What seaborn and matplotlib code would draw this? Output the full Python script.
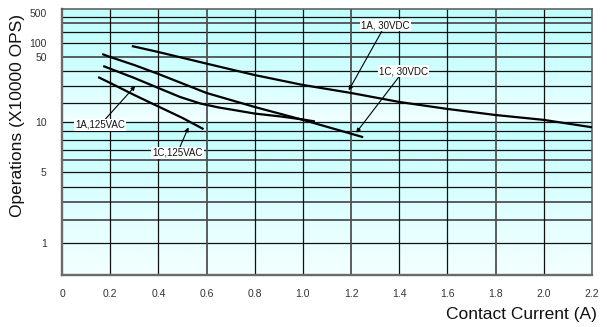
import numpy as np
import pandas as pd
import matplotlib
matplotlib.use("Agg")
import matplotlib.pyplot as plt
import seaborn as sns

# ---------------- data ----------------
X_1A_30VDC = [0.29, 0.40, 0.60, 0.80, 1.00, 1.20, 1.40, 1.60, 1.80, 2.00, 2.20]
Y_1A_30VDC = [86, 64, 45.0, 37.0, 30.6, 25.4, 20.5, 16.1, 12.9, 10.8, 9.4]

X_1C_30VDC = [0.167, 0.20, 0.30, 0.40, 0.60, 0.80, 1.00, 1.25]
Y_1C_30VDC = [57.9, 50.0, 44.0, 37.8, 25.4, 17.3, 10.8, 8.3]

X_1A_125VAC = [0.171, 0.30, 0.40, 0.49, 0.575, 0.65, 0.70, 0.80, 0.91, 1.00, 1.05]
Y_1A_125VAC = [43.3, 35.0, 28.6, 23.1, 19.6, 17.0, 15.8, 13.6, 12.2, 10.96, 10.2]

X_1C_125VAC = [0.15, 0.20, 0.30, 0.40, 0.50, 0.5875]
Y_1C_125VAC = [35.6, 31.8, 24.2, 17.6, 11.6, 9.2]

X_TICKS = [0, 0.2, 0.4, 0.6, 0.8, 1.0, 1.2, 1.4, 1.6, 1.8, 2.0, 2.2]
X_TICK_LABELS = ["0", "0.2", "0.4", "0.6", "0.8", "1.0", "1.2", "1.4", "1.6", "1.8", "2.0", "2.2"]
Y_TICKS = [1, 5, 10, 50, 100, 500]
Y_TICK_LABELS = ["1", "5", "10", "50", "100", "500"]
Y_GRID = [1, 2, 3, 4, 5, 6, 7, 8, 9, 10, 20, 30, 40, 50, 100, 200, 300, 400]
Y_GRID_GRAY = [2, 3, 6, 50, 300]
X_GRID_GRAY = [0.6, 1.2, 1.8]

# (label text, label position, arrow tip)
ANNOTATIONS = [
    ("1A, 30VDC", (1.342, 274), (1.19, 27)),
    ("1C, 30VDC", (1.417, 40), (1.221, 8.8)),
    ("1A,125VAC", (0.158, 9.66), (0.304, 30)),
    ("1C,125VAC", (0.479, 6.7), (0.525, 9.4)),
]

# ---------------- non-uniform y scale of the original chart ----------------
SCALE_VALS = np.array([0.38, 1, 2, 3, 4, 5, 6, 7, 8, 9, 10, 20, 30, 40, 50,
                       100, 200, 300, 400, 500, 630], dtype=float)
SCALE_POS = 275.0 - np.array([275, 243, 220, 202, 187, 172, 160, 150, 140, 131, 122,
                              103, 86, 71, 57, 43, 32, 23, 17, 13, 9], dtype=float)
LOGV = np.log10(SCALE_VALS)


def fwd(v):
    v = np.clip(np.asarray(v, dtype=float), 1e-6, None)
    return np.interp(np.log10(v), LOGV, SCALE_POS)


def inv(p):
    return 10 ** np.interp(np.asarray(p, dtype=float), SCALE_POS, LOGV)


# ---------------- figure ----------------
sns.set_theme(style="white")
plt.rcParams["font.family"] = ["Liberation Sans", "DejaVu Sans"]

W, H = 607, 327
fig = plt.figure(figsize=(W / 100, H / 100), dpi=100)
rect = [62 / W, 1 - 275 / H, (592 - 62) / W, (275 - 9) / H]

# background gradient (two bands, cyan fading to near white)
bg = fig.add_axes(rect, zorder=0)
rows = np.arange(9, 276)
cyan = np.array([0.76, 1.0, 1.0])
light = np.array([0.955, 1.0, 1.0])
cols = []
for p in rows:
    if p < 122:
        t = ((p - 9) / 113.0) ** 2.0
    else:
        t = ((p - 122) / 153.0) ** 0.9
    cols.append(cyan + (light - cyan) * t)
grad = np.array(cols)[:, None, :]
bg.imshow(grad, aspect="auto", extent=[0, 1, 0, 1], interpolation="bilinear")
bg.axis("off")

ax = fig.add_axes(rect, zorder=1)
ax.set_facecolor("none")
ax.set_yscale("function", functions=(fwd, inv))
ax.set_xlim(0, 2.2)
ax.set_ylim(0.38, 630)

# grid
for v in Y_GRID:
    if v in Y_GRID_GRAY:
        ax.axhline(v, color="#505050", lw=1.3, zorder=1)
    else:
        ax.axhline(v, color="#111111", lw=0.9, zorder=1)
for x in X_TICKS[1:-1]:
    if x in X_GRID_GRAY:
        ax.axvline(x, color="#505050", lw=1.3, zorder=1)
    else:
        ax.axvline(x, color="#111111", lw=0.9, zorder=1)

# curves
series = [
    ("1A, 30VDC", X_1A_30VDC, Y_1A_30VDC),
    ("1C, 30VDC", X_1C_30VDC, Y_1C_30VDC),
    ("1A,125VAC", X_1A_125VAC, Y_1A_125VAC),
    ("1C,125VAC", X_1C_125VAC, Y_1C_125VAC),
]
for name, xs, ys in series:
    df = pd.DataFrame({"x": xs, "y": ys})
    sns.lineplot(data=df, x="x", y="y", ax=ax, color="black", lw=1.6,
                 estimator=None, sort=False, zorder=3)
for ln in ax.lines:
    ln.set_solid_capstyle("butt")
    ln.set_solid_joinstyle("round")

# annotations
for text, lab, tip in ANNOTATIONS:
    ax.annotate(text, xy=tip, xytext=lab, fontsize=7, ha="center", va="center",
                color="#111111", zorder=5,
                bbox=dict(boxstyle="square,pad=0.12", fc="white", ec="none"),
                arrowprops=dict(arrowstyle="-|>", color="black", lw=0.8,
                                mutation_scale=6, shrinkA=0, shrinkB=0))

# ticks
ax.set_xticks(X_TICKS)
ax.set_xticklabels(X_TICK_LABELS)
ax.set_yticks(Y_TICKS)
ax.set_yticklabels(Y_TICK_LABELS)
ax.yaxis.set_minor_locator(matplotlib.ticker.NullLocator())
ax.tick_params(axis="both", length=0, labelsize=7.5, labelcolor="#333333")
ax.tick_params(axis="x", pad=10)
ax.tick_params(axis="y", pad=11)
ax.set_xlabel("")
ax.set_ylabel("")
ax.grid(False)

for side in ["top", "right"]:
    ax.spines[side].set_color("#555555")
    ax.spines[side].set_linewidth(1.1)
for side in ["left", "bottom"]:
    ax.spines[side].set_color("#6a6a6a")
    ax.spines[side].set_linewidth(1.7)

fig.text(18 / W, 1 - 116 / H, "Operations (X10000 OPS)", rotation=90,
         ha="center", va="center", fontsize=12.5, color="#111111")
fig.text(597 / W, 1 - 314 / H, "Contact Current (A)", ha="right", va="center",
         fontsize=12.5, color="#111111")

fig.savefig("out.png", dpi=100, facecolor="white")
